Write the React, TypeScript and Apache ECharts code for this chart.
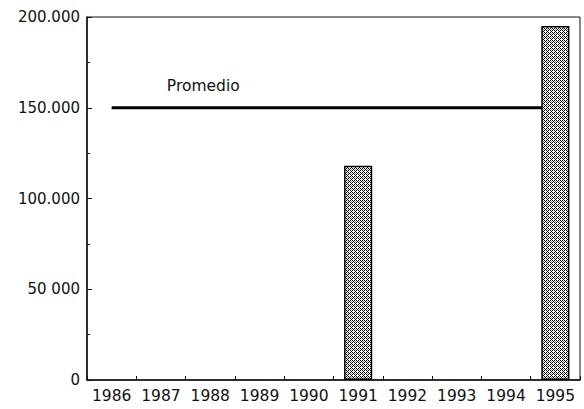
import React, { useEffect, useRef } from "react";
import * as echarts from "echarts";

const years = ["1986", "1987", "1988", "1989", "1990", "1991", "1992", "1993", "1994", "1995"];
const barValues: (number | string)[] = ["-", "-", "-", "-", "-", 118000, "-", "-", "-", 195000];
const promedioValues = [150000, 150000, 150000, 150000, 150000, 150000, 150000, 150000, 150000, 150000];
const promedioLabelIndex = 2;
const promedioName = "Promedio";
const yTickValues = [0, 50000, 100000, 150000, 200000];
const yTickLabels = ["0", "50 000", "100.000", "150.000", "200.000"];

function makePattern(): HTMLCanvasElement {
  const c = document.createElement("canvas");
  c.width = 4;
  c.height = 4;
  const ctx = c.getContext("2d")!;
  ctx.fillStyle = "#ffffff";
  ctx.fillRect(0, 0, 4, 4);
  ctx.fillStyle = "#000000";
  const pts = [
    [0, 0], [2, 0], [1, 1], [0, 2], [2, 2], [3, 3],
  ];
  pts.forEach(([x, y]) => ctx.fillRect(x, y, 1, 1));
  ctx.fillStyle = "#888888";
  ctx.fillRect(3, 1, 1, 1);
  return c;
}

export default function App() {
  const ref = useRef<HTMLDivElement>(null);
  useEffect(() => {
    if (!ref.current) return;
    const chart = echarts.init(ref.current, undefined, { renderer: "svg" });
    const font = "DejaVu Sans";
    const pattern = { image: makePattern(), repeat: "repeat" } as any;
    chart.setOption({
      animation: false,
      backgroundColor: "#ffffff",
      grid: {
        left: 87,
        right: 4,
        top: 17,
        bottom: 29,
        show: true,
        borderColor: "#111",
        borderWidth: 1,
        backgroundColor: "transparent",
      },
      xAxis: {
        type: "category",
        data: years,
        boundaryGap: true,
        axisLine: { show: true, lineStyle: { color: "#111", width: 1.5 } },
        axisTick: { show: true, inside: true, length: 4, alignWithLabel: false, lineStyle: { color: "#111" } },
        axisLabel: { color: "#111", fontFamily: font, fontSize: 15.5, margin: 8, interval: 0 },
        splitLine: { show: false },
      },
      yAxis: {
        type: "value",
        min: 0,
        max: 200000,
        interval: 50000,
        axisLine: { show: true, lineStyle: { color: "#111", width: 1.5 } },
        axisTick: { show: true, inside: true, length: 5, lineStyle: { color: "#111" } },
        minorTick: { show: true, splitNumber: 2, length: 3, lineStyle: { color: "#111" } },
        splitLine: { show: false },
        axisLabel: {
          color: "#111",
          fontFamily: font,
          fontSize: 15,
          margin: 7,
          formatter: (v: number) => {
            const i = yTickValues.indexOf(v);
            return i >= 0 ? yTickLabels[i] : "";
          },
        },
      },
      series: [
        {
          type: "line",
          name: promedioName,
          data: promedioValues,
          showSymbol: false,
          symbol: "none",
          lineStyle: { color: "#000", width: 3 },
          z: 1,
          silent: true,
          markPoint: {
            silent: true,
            symbol: "circle",
            symbolSize: 0,
            itemStyle: { color: "transparent" },
            label: {
              show: true,
              formatter: promedioName,
              position: "top",
              distance: 14,
              offset: [-7, 0],
              fontFamily: font,
              fontSize: 15.5,
              color: "#111",
            },
            data: [{ coord: [years[promedioLabelIndex], promedioValues[promedioLabelIndex]] }],
          },
        },
        {
          type: "bar",
          data: barValues,
          barWidth: "57%",
          itemStyle: { color: pattern, borderColor: "#000", borderWidth: 1.5 },
          z: 3,
          silent: true,
        },
      ],
    });
    return () => chart.dispose();
  }, []);
  return (
    <div
      ref={ref}
      style={{ position: "fixed", left: 0, top: 0, width: 584, height: 409, background: "#fff" }}
    />
  );
}
